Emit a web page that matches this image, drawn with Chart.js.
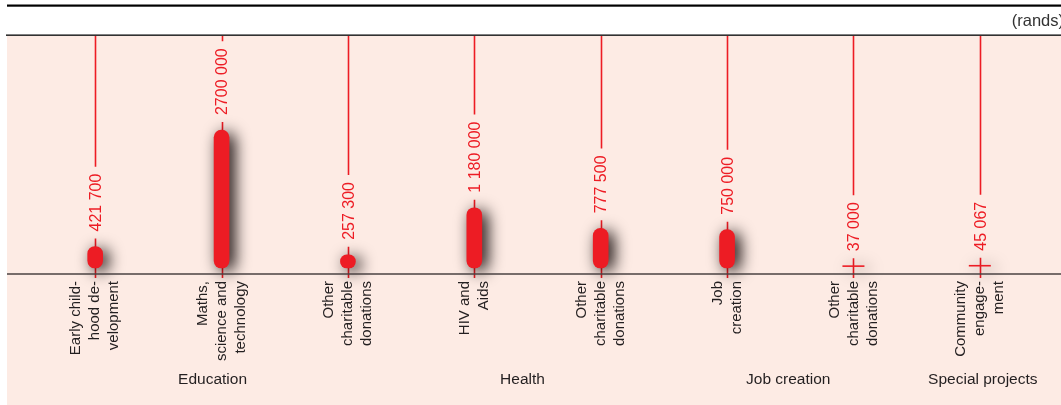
<!DOCTYPE html>
<html>
<head>
<meta charset="utf-8">
<script src="https://cdn.jsdelivr.net/npm/chart.js@4"></script>
<style>
  html, body { margin: 0; padding: 0; background: #ffffff; }
  #wrap { width: 1061px; height: 405px; }
</style>
</head>
<body>
<div id="wrap"><canvas id="chart" width="1061" height="405"></canvas></div>
<script>
// Spending per programme (rands)
const categoryLabels = [
  ["Early child-", "hood de-", "velopment"],
  ["Maths,", "science and", "technology"],
  ["Other", "charitable", "donations"],
  ["HIV and", "Aids"],
  ["Other", "charitable", "donations"],
  ["Job", "creation"],
  ["Other", "charitable", "donations"],
  ["Community", "engage-", "ment"]
];
const groupNames = ["Education", "Health", "Job creation", "Special projects"];
const groupOfCategory = [0, 0, 0, 1, 1, 2, 2, 3];
const amounts = [421700, 2700000, 257300, 1180000, 777500, 750000, 37000, 45067];
const amountLabels = ["421 700", "2700 000", "257 300", "1 180 000", "777 500", "750 000", "37 000", "45 067"];
const unitLabel = "(rands)";

const RED = '#ed1c24';
const INK = '#231f20';
const PINK = '#fdebe4';
const SMALL = 100000; // amounts below this are shown as a tick mark instead of a bar
const FONT = '"Liberation Sans", Arial, sans-serif';
const VALUE_FONT = '16px ' + FONT;
// small horizontal nudges for the group captions
const groupNudge = [-9, -15, -2, 3];

const decor = {
  id: 'decor',
  beforeDraw(chart) {
    const ctx = chart.ctx;
    const top = chart.chartArea.top;
    ctx.save();
    ctx.fillStyle = PINK;
    ctx.fillRect(7, top, chart.width - 7, chart.height - top);
    ctx.fillStyle = '#000';
    ctx.fillRect(7, 4.5, chart.width - 7, 2.2);
    ctx.fillRect(6, 34.5, chart.width - 6, 1.3);
    ctx.fillStyle = '#333333';
    ctx.font = '16.5px ' + FONT;
    ctx.textAlign = 'right';
    ctx.textBaseline = 'alphabetic';
    ctx.fillText(unitLabel, 1064, 26);
    ctx.restore();
  },
  beforeDatasetsDraw(chart) {
    // vertical stems, broken around each value label
    const ctx = chart.ctx, xs = chart.scales.x, ys = chart.scales.y;
    const top = chart.chartArea.top, bottom = chart.chartArea.bottom;
    ctx.save();
    ctx.font = VALUE_FONT;
    ctx.strokeStyle = RED;
    ctx.lineWidth = 1.6;
    amounts.forEach((v, i) => {
      const x = Math.round(xs.getPixelForValue(i)) + 0.5;
      const yv = ys.getPixelForValue(v);
      const textStart = yv - 15;
      const textEnd = textStart - ctx.measureText(amountLabels[i]).width;
      ctx.beginPath();
      ctx.moveTo(x, top);
      ctx.lineTo(x, textEnd - 7);
      ctx.moveTo(x, textStart + 7);
      ctx.lineTo(x, bottom + 4);
      ctx.stroke();
    });
    ctx.restore();
  },
  beforeDatasetDraw(chart) {
    const ctx = chart.ctx;
    ctx.save();
    ctx.shadowColor = 'rgba(10,0,0,1)';
    ctx.shadowBlur = 16;
    ctx.shadowOffsetX = 5;
    ctx.shadowOffsetY = 3;
  },
  afterDatasetDraw(chart) {
    chart.ctx.restore();
  },
  afterDatasetsDraw(chart) {
    const ctx = chart.ctx, xs = chart.scales.x, ys = chart.scales.y;
    const bottom = chart.chartArea.bottom;
    ctx.save();
    // baseline
    ctx.strokeStyle = '#4a4242';
    ctx.lineWidth = 1.5;
    ctx.beginPath();
    ctx.moveTo(7, bottom);
    ctx.lineTo(chart.width, bottom);
    ctx.stroke();
    // value labels, rotated
    ctx.font = VALUE_FONT;
    ctx.fillStyle = RED;
    ctx.textAlign = 'left';
    ctx.textBaseline = 'alphabetic';
    amounts.forEach((v, i) => {
      const x = xs.getPixelForValue(i);
      const y = ys.getPixelForValue(v) - 15;
      ctx.save();
      ctx.translate(x + 5.7, y);
      ctx.rotate(-Math.PI / 2);
      ctx.fillText(amountLabels[i], 0, 0);
      ctx.restore();
    });
    ctx.restore();
  },
  afterDraw(chart) {
    const ctx = chart.ctx, xs = chart.scales.x;
    ctx.save();
    ctx.fillStyle = INK;
    // category labels, rotated, ending just under the axis
    ctx.font = '15px ' + FONT;
    ctx.textAlign = 'right';
    ctx.textBaseline = 'middle';
    const lh = 19;
    categoryLabels.forEach((lines, i) => {
      const x = xs.getPixelForValue(i);
      lines.forEach((line, j) => {
        const off = (j - (lines.length - 1) / 2) * lh;
        ctx.save();
        ctx.translate(x + off, 281);
        ctx.rotate(-Math.PI / 2);
        ctx.fillText(line, 0, 0);
        ctx.restore();
      });
    });
    // group labels under their categories
    ctx.font = '15.5px ' + FONT;
    ctx.textAlign = 'center';
    ctx.textBaseline = 'alphabetic';
    groupNames.forEach((name, g) => {
      const idx = groupOfCategory.map((gg, i) => gg === g ? i : -1).filter(i => i >= 0);
      const x = (xs.getPixelForValue(idx[0]) + xs.getPixelForValue(idx[idx.length - 1])) / 2;
      ctx.fillText(name, x + groupNudge[g], 383.5);
    });
    ctx.restore();
  }
};

new Chart(document.getElementById('chart'), {
  data: {
    labels: categoryLabels,
    datasets: [
      {
        type: 'bar',
        data: amounts,
        backgroundColor: c => (c.raw < SMALL ? 'rgba(0,0,0,0)' : RED),
        borderWidth: 0,
        borderRadius: 7.5,
        borderSkipped: false,
        barThickness: 15,
        clip: false
      },
      {
        type: 'line',
        data: amounts.map(v => (v < SMALL ? v : null)),
        showLine: false,
        pointStyle: 'line',
        pointRadius: 11,
        pointBorderWidth: 1.6,
        pointBorderColor: RED,
        pointBackgroundColor: RED,
        clip: false
      }
    ]
  },
  options: {
    responsive: false,
    animation: false,
    devicePixelRatio: 1,
    layout: { padding: { left: 32, right: 18, top: 36, bottom: 131 } },
    plugins: { legend: { display: false }, tooltip: { enabled: false } },
    scales: {
      x: { type: 'category', offset: true, display: false },
      y: { type: 'linear', min: -117000, max: 4540000, display: false }
    }
  },
  plugins: [decor]
});
</script>
</body>
</html>
